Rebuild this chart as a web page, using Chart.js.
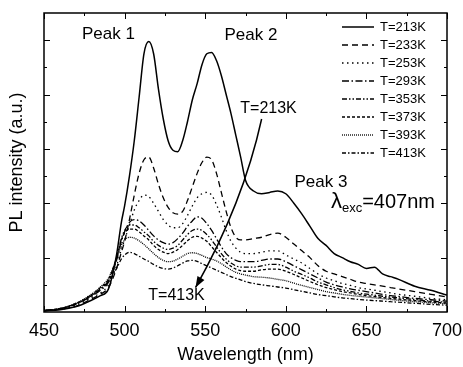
<!DOCTYPE html>
<html>
<head>
<meta charset="utf-8">
<script src="https://cdn.jsdelivr.net/npm/chart.js@4/dist/chart.umd.min.js"></script>
<style>
  body { margin: 0; background: #fff; }
  canvas { display: block; }
</style>
</head>
<body>
<canvas id="plChart" width="463" height="367"></canvas>
<script>
// wavelength grid (nm) and PL intensity per temperature
const wavelengths = [450, 460, 470, 480, 485, 490, 495, 498, 500, 503, 506, 509, 512, 515, 518, 521, 524, 527, 530, 533, 536, 539, 542, 545, 548, 551, 554, 557, 560, 563, 566, 569, 572, 575, 580, 585, 590, 595, 600, 605, 610, 615, 620, 625, 630, 635, 640, 645, 650, 655, 660, 665, 670, 680, 690, 700];

const t213 = [0.05, 0.08, 0.2, 0.45, 0.6, 0.85, 2.1, 3.3, 3.9, 5.0, 6.3, 7.9, 9.5, 9.95, 9.5, 8.2, 7.1, 6.3, 5.95, 5.9, 6.3, 7.0, 7.8, 8.4, 9.1, 9.5, 9.55, 9.25, 8.7, 8.0, 7.3, 6.5, 5.7, 4.85, 4.45, 4.35, 4.4, 4.45, 4.35, 4.0, 3.6, 3.15, 2.7, 2.45, 2.15, 2.0, 1.85, 1.75, 1.6, 1.65, 1.4, 1.3, 1.2, 0.95, 0.8, 0.62];
const t233 = [0.05, 0.1, 0.22, 0.5, 0.65, 0.9, 1.6, 2.2, 2.6, 3.4, 4.3, 5.1, 5.6, 5.7, 5.3, 4.7, 4.2, 3.85, 3.65, 3.6, 3.7, 4.1, 4.6, 5.1, 5.5, 5.7, 5.6, 5.1, 4.4, 3.7, 3.1, 2.75, 2.65, 2.65, 2.7, 2.75, 2.85, 2.9, 2.75, 2.5, 2.25, 2.0, 1.7, 1.5, 1.4, 1.3, 1.2, 1.1, 1.05, 1.0, 0.95, 0.9, 0.85, 0.75, 0.65, 0.55];
const t253 = [0.05, 0.1, 0.25, 0.55, 0.7, 1.0, 1.7, 2.3, 2.65, 3.2, 3.75, 4.1, 4.3, 4.25, 4.0, 3.7, 3.4, 3.2, 3.1, 3.1, 3.25, 3.55, 3.9, 4.2, 4.35, 4.4, 4.3, 3.95, 3.5, 3.0, 2.6, 2.35, 2.2, 2.15, 2.15, 2.2, 2.25, 2.25, 2.1, 1.95, 1.8, 1.6, 1.4, 1.25, 1.15, 1.05, 0.98, 0.9, 0.85, 0.8, 0.75, 0.7, 0.65, 0.58, 0.5, 0.45];
const t293 = [0.05, 0.12, 0.3, 0.6, 0.8, 1.1, 1.9, 2.6, 2.95, 3.3, 3.4, 3.35, 3.2, 3.0, 2.8, 2.65, 2.55, 2.5, 2.55, 2.7, 2.9, 3.15, 3.35, 3.5, 3.45, 3.25, 3.0, 2.7, 2.4, 2.15, 2.0, 1.9, 1.85, 1.85, 1.85, 1.9, 1.95, 1.95, 1.85, 1.7, 1.55, 1.4, 1.25, 1.1, 1.0, 0.92, 0.85, 0.8, 0.75, 0.7, 0.65, 0.6, 0.57, 0.5, 0.45, 0.4];
const t353 = [0.05, 0.12, 0.3, 0.62, 0.85, 1.15, 2.0, 2.7, 3.0, 3.2, 3.2, 3.1, 2.95, 2.8, 2.6, 2.45, 2.35, 2.3, 2.35, 2.45, 2.65, 2.85, 3.0, 3.05, 3.0, 2.85, 2.65, 2.4, 2.15, 1.95, 1.8, 1.7, 1.65, 1.65, 1.65, 1.7, 1.75, 1.75, 1.65, 1.5, 1.38, 1.25, 1.1, 1.0, 0.9, 0.82, 0.76, 0.7, 0.66, 0.62, 0.58, 0.55, 0.52, 0.46, 0.4, 0.36];
const t373 = [0.05, 0.13, 0.32, 0.65, 0.9, 1.2, 2.0, 2.65, 2.9, 3.05, 3.05, 2.95, 2.8, 2.65, 2.45, 2.3, 2.2, 2.15, 2.2, 2.3, 2.45, 2.62, 2.75, 2.78, 2.72, 2.6, 2.4, 2.2, 2.0, 1.82, 1.68, 1.58, 1.52, 1.5, 1.5, 1.55, 1.58, 1.58, 1.5, 1.38, 1.25, 1.12, 1.0, 0.9, 0.82, 0.75, 0.7, 0.65, 0.6, 0.57, 0.53, 0.5, 0.47, 0.42, 0.37, 0.33];
const t393 = [0.05, 0.13, 0.33, 0.68, 0.92, 1.25, 1.95, 2.45, 2.65, 2.75, 2.72, 2.62, 2.48, 2.32, 2.15, 2.0, 1.9, 1.85, 1.87, 1.95, 2.05, 2.15, 2.18, 2.15, 2.08, 2.0, 1.95, 1.88, 1.78, 1.66, 1.55, 1.46, 1.4, 1.36, 1.3, 1.28, 1.25, 1.2, 1.15, 1.06, 0.98, 0.9, 0.82, 0.75, 0.7, 0.65, 0.61, 0.58, 0.55, 0.52, 0.49, 0.46, 0.43, 0.38, 0.34, 0.3];
const t413 = [0.05, 0.12, 0.3, 0.62, 0.85, 1.12, 1.6, 1.95, 2.1, 2.2, 2.15, 2.05, 1.95, 1.86, 1.75, 1.66, 1.6, 1.58, 1.62, 1.7, 1.8, 1.88, 1.9, 1.86, 1.78, 1.7, 1.62, 1.54, 1.46, 1.38, 1.3, 1.24, 1.18, 1.12, 1.05, 1.0, 0.96, 0.92, 0.88, 0.82, 0.76, 0.7, 0.64, 0.6, 0.56, 0.52, 0.49, 0.46, 0.44, 0.42, 0.4, 0.38, 0.36, 0.32, 0.28, 0.25];

const labels = ['T=213K', 'T=233K', 'T=253K', 'T=293K', 'T=353K', 'T=373K', 'T=393K', 'T=413K'];
const series = [t213, t233, t253, t293, t353, t373, t393, t413];
const dashes = [[], [6, 4], [1.5, 3.5], [7, 2.5, 1.5, 2.5], [5, 2, 1.5, 2, 1.5, 2], [3, 2], [1, 1], [4, 2, 1.5, 2]];

const xTicks = [450, 500, 550, 600, 650, 700];

const FONT = '"Liberation Sans", Arial, sans-serif';

const datasets = series.map(function (vals, i) {
    return {
        label: labels[i],
        data: wavelengths.map((w, j) => ({ x: w, y: vals[j] })),
        borderColor: '#000',
        borderWidth: i === 0 ? 1.5 : 1.3,
        borderDash: dashes[i],
        pointRadius: 0,
        fill: false,
        cubicInterpolationMode: 'monotone'
    };
});

// frame with inward ticks on all four sides
const framePlugin = {
    id: 'frame',
    afterDraw(chart) {
        const ctx = chart.ctx;
        const { left, right, top, bottom } = chart.chartArea;
        const xs = chart.scales.x, ys = chart.scales.y;
        ctx.save();
        ctx.strokeStyle = '#000';
        ctx.lineWidth = 1.5;
        ctx.strokeRect(left, top, right - left, bottom - top);
        ctx.lineWidth = 1;
        ctx.beginPath();
        for (let v = 450; v <= 700; v += 25) {
            const px = Math.round(xs.getPixelForValue(v)) + 0.5;
            const len = v % 50 === 0 ? 6 : 3;
            ctx.moveTo(px, bottom); ctx.lineTo(px, bottom - len);
            ctx.moveTo(px, top); ctx.lineTo(px, top + len);
        }
        for (let v = 1; v <= 10; v++) {
            const py = Math.round(ys.getPixelForValue(v)) + 0.5;
            const len = v % 2 === 0 ? 6 : 3;
            ctx.moveTo(left, py); ctx.lineTo(left + len, py);
            ctx.moveTo(right, py); ctx.lineTo(right - len, py);
        }
        ctx.stroke();
        ctx.restore();
    }
};

// legend in the upper right corner
const legendPlugin = {
    id: 'innerLegend',
    afterDraw(chart) {
        const ctx = chart.ctx;
        const { right, top } = chart.chartArea;
        ctx.save();
        ctx.fillStyle = '#000';
        ctx.strokeStyle = '#000';
        ctx.font = '13px ' + FONT;
        ctx.textBaseline = 'middle';
        chart.data.datasets.forEach(function (ds, i) {
            const y = top + 14 + i * 18;
            ctx.lineWidth = ds.borderWidth;
            ctx.setLineDash(ds.borderDash);
            ctx.beginPath();
            ctx.moveTo(right - 105, y);
            ctx.lineTo(right - 73, y);
            ctx.stroke();
            ctx.setLineDash([]);
            ctx.fillText(ds.label, right - 67, y);
        });
        ctx.restore();
    }
};

// text labels and the temperature arrow, placed in data units
const notesPlugin = {
    id: 'notes',
    afterDatasetsDraw(chart) {
        const ctx = chart.ctx;
        const xs = chart.scales.x, ys = chart.scales.y;
        const X = v => xs.getPixelForValue(v);
        const Y = v => ys.getPixelForValue(v);
        ctx.save();
        ctx.fillStyle = '#000';
        ctx.strokeStyle = '#000';
        ctx.textAlign = 'center';
        ctx.textBaseline = 'middle';
        ctx.font = '17px ' + FONT;
        ctx.fillText('Peak 1', X(490), Y(10.22));
        ctx.fillText('Peak 2', X(578.4), Y(10.18));
        ctx.fillText('Peak 3', X(621.8), Y(4.78));
        ctx.font = '16px ' + FONT;
        ctx.fillText('T=213K', X(589.3), Y(7.5));
        ctx.fillText('T=413K', X(532.2), Y(0.62));

        // lambda_exc = 407nm
        ctx.textAlign = 'left';
        let x = X(628);
        const yb = Y(4.04);
        ctx.font = '22px ' + FONT;
        ctx.fillText('\u03bb', x, yb);
        x += ctx.measureText('\u03bb').width;
        ctx.font = '13px ' + FONT;
        ctx.fillText('exc', x, yb + 6);
        x += ctx.measureText('exc').width;
        ctx.font = '20px ' + FONT;
        ctx.fillText('=407nm', x, yb);

        // arrow from T=213K down to T=413K
        const sx = X(585), sy = Y(7.1);
        const cx = X(573.5), cy = Y(4.0);
        const ex = X(544), ey = Y(0.9);
        ctx.lineWidth = 1.5;
        ctx.beginPath();
        ctx.moveTo(sx, sy);
        ctx.quadraticCurveTo(cx, cy, ex, ey);
        ctx.stroke();
        const ang = Math.atan2(ey - cy, ex - cx);
        const hl = 11, hw = 4;
        ctx.beginPath();
        ctx.moveTo(ex, ey);
        ctx.lineTo(ex - hl * Math.cos(ang) + hw * Math.sin(ang), ey - hl * Math.sin(ang) - hw * Math.cos(ang));
        ctx.lineTo(ex - hl * Math.cos(ang) - hw * Math.sin(ang), ey - hl * Math.sin(ang) + hw * Math.cos(ang));
        ctx.closePath();
        ctx.fill();
        ctx.restore();
    }
};

const ctx = document.getElementById('plChart').getContext('2d');
const plChart = new Chart(ctx, {
    type: 'line',
    data: { datasets: datasets },
    options: {
        responsive: false,
        animation: false,
        layout: { padding: { top: 13, right: 16, left: 0, bottom: 0 } },
        plugins: {
            legend: { display: false },
            tooltip: { enabled: false }
        },
        scales: {
            x: {
                type: 'linear',
                min: 450,
                max: 700,
                afterFit(scale) { scale.height = 55; },
                afterBuildTicks(scale) { scale.ticks = xTicks.map(v => ({ value: v })); },
                grid: { display: false },
                border: { display: false },
                ticks: { color: '#000', font: { family: FONT, size: 18 }, padding: 0, maxRotation: 0 },
                title: {
                    display: true,
                    text: 'Wavelength (nm)',
                    color: '#000',
                    font: { family: FONT, size: 18 },
                    padding: { top: 0, bottom: 1 }
                }
            },
            y: {
                min: 0,
                max: 11,
                afterFit(scale) { scale.width = 44; },
                grid: { display: false },
                border: { display: false },
                ticks: { display: false },
                title: {
                    display: true,
                    text: 'PL intensity (a.u.)',
                    color: '#000',
                    font: { family: FONT, size: 18 },
                    padding: { top: 6, bottom: 0 }
                }
            }
        }
    },
    plugins: [framePlugin, legendPlugin, notesPlugin]
});
</script>
</body>
</html>
